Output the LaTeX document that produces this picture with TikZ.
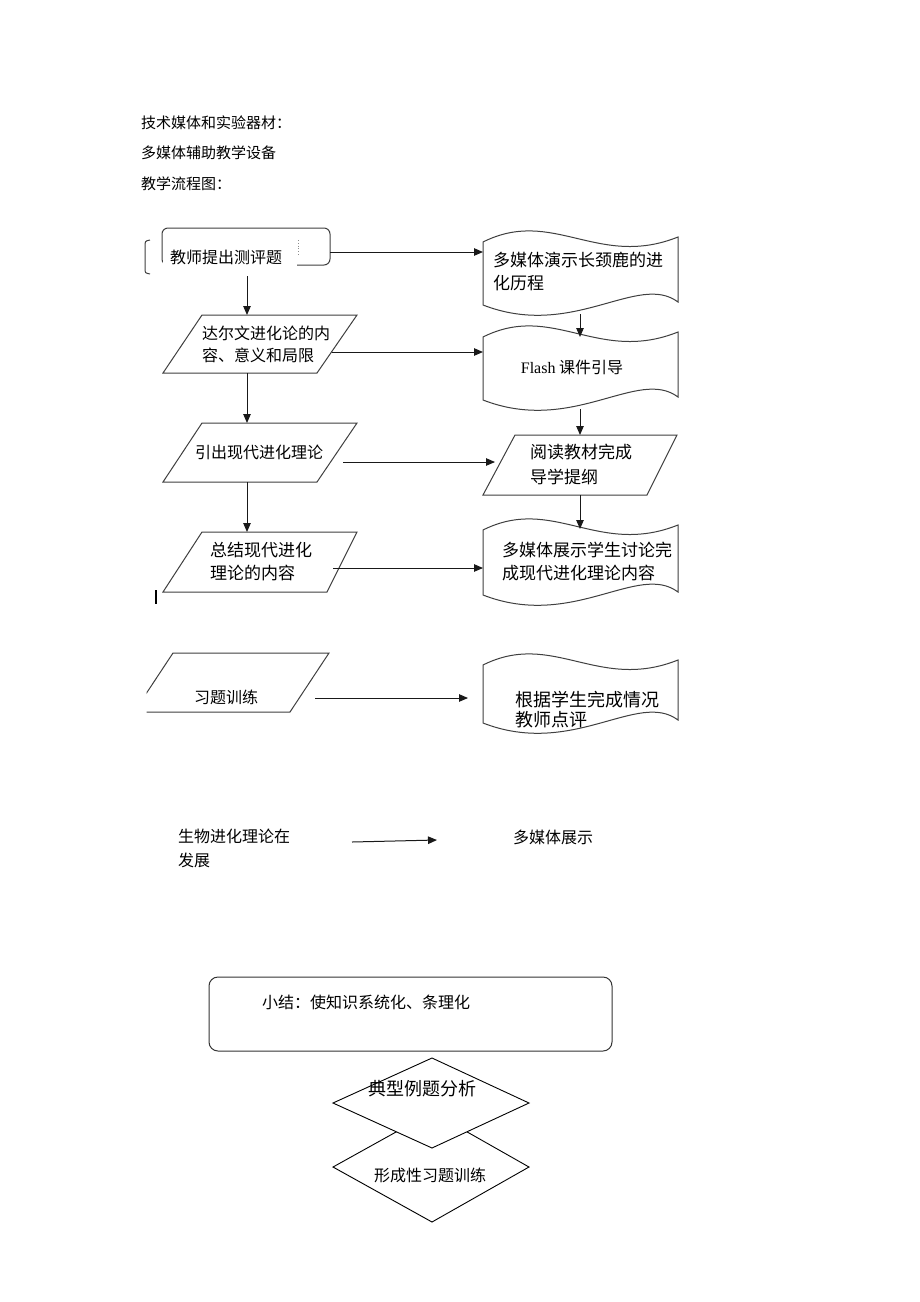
\documentclass[tikz,border=0pt]{standalone}
\usepackage{fontspec}
\setmainfont{Liberation Serif}
\newfontfamily\cjk{Noto Sans CJK SC}
\usetikzlibrary{arrows.meta}
\newcommand\wavedoc[2]{\draw[shp] (483,#1) .. controls +(70,-35) and +(-80,32) .. (678,#1-5) -- (678,#2-3) .. controls +(-40,-30) and +(90,35) .. (483,#2) -- cycle;}
\begin{document}
\begin{tikzpicture}[x=1pt,y=-1pt,
 shp/.style={draw=black!75, line width=1pt},
 dshp/.style={draw=black, line width=0.9pt, fill=white},
 arr/.style={draw=black!90, line width=1pt, -{Triangle[length=9pt,width=7.5pt]}},
 t15/.style={font=\cjk\fontsize{15pt}{20pt}\selectfont, inner sep=0pt, align=left},
 t16/.style={font=\cjk\fontsize{16pt}{22pt}\selectfont, inner sep=0pt, align=left},
 t17/.style={font=\cjk\fontsize{17pt}{23pt}\selectfont, inner sep=0pt, align=left},
 t18/.style={font=\cjk\fontsize{18pt}{20pt}\selectfont, inner sep=0pt, align=left},
]
\fill[white] (0,0) rectangle (920,1302);
\useasboundingbox (0,0) rectangle (920,1302);

% heading lines
\node[t15, anchor=west] (h1) at (141,123) {技术媒体和实验器材：};
\node[t15, anchor=west] (h2) at (141,153) {多媒体辅助教学设备};
\node[t15, anchor=west] (h3) at (141,184) {教学流程图：};

% node 1
\draw[shp, rounded corners=6pt] (162,228) rectangle (330,265);
\fill[white] (163,236) rectangle (297,276);
\draw[shp] (150,240) .. controls (145,241) .. (145,247) -- (145,268) .. controls (145,273) .. (150,274);
\draw[black!45, dotted, line width=0.8pt] (298,240) -- (298,256);
\node[t16, anchor=west] (n1) at (170,257) {教师提出测评题};
\coordinate (n1b) at (247,276);
\coordinate (n1r) at (330,252);

% left column parallelograms
\draw[shp] (202,315) -- (357,315) -- (317,373) -- (163,373) -- cycle;
\node[t16, anchor=west] (p1) at (202,344) {达尔文进化论的内\\容、意义和局限};
\coordinate (p1t) at (247,315);
\coordinate (p1b) at (247,373);
\coordinate (p1r) at (332,352);

\draw[shp] (202,423) -- (357,423) -- (317,482) -- (163,482) -- cycle;
\node[t16] (p2) at (259,452) {引出现代进化理论};
\coordinate (p2t) at (247,423);
\coordinate (p2b) at (247,482);
\coordinate (p2r) at (343,462);

\draw[shp] (202,532) -- (357,532) -- (327,592) -- (163,592) -- cycle;
\node[t17, anchor=west] (p3) at (210,561.5) {总结现代进化\\理论的内容};
\coordinate (p3t) at (247,532);
\coordinate (p3r) at (333,568);

\draw[black, line width=2pt] (156,590) -- (156,604);

\begin{scope}
\clip (146.5,640) rectangle (400,720);
\draw[shp] (173,653) -- (329,653) -- (290,712) -- (134,712) -- cycle;
\end{scope}
\node[t16] (p4) at (226,697) {习题训练};
\coordinate (p4r) at (315,698);

% right column
\wavedoc{242}{305}
\node[t17, anchor=west] (a) at (493,271.5) {多媒体演示长颈鹿的进\\化历程};
\coordinate (al) at (483,252);
\coordinate (ab) at (580,314);

\wavedoc{337}{400}
\node[t16] (b) at (572,367) {{\rmfamily Flash} 课件引导};
\coordinate (bl) at (483,352);
\coordinate (bt) at (580,337);
\coordinate (bb) at (580,409);

\draw[shp] (515,435) -- (677,435) -- (647,495) -- (483,495) -- cycle;
\node[t17, anchor=west, font=\cjk\fontsize{17pt}{25pt}\selectfont] (c) at (530,464.5) {阅读教材完成\\导学提纲};
\coordinate (ct) at (580,435);
\coordinate (cb) at (580,495);
\coordinate (cl) at (495,462);

\wavedoc{530}{595}
\node[t17, anchor=west] (d) at (502,561.5) {多媒体展示学生讨论完\\成现代进化理论内容};
\coordinate (dt) at (580,529);
\coordinate (dl) at (483,568);

\wavedoc{665}{723}
\node[t18, anchor=west] (e) at (515,710) {根据学生完成情况\\教师点评};
\coordinate (el) at (468,698);

% connectors
\draw[arr] (n1b) -- (p1t);
\draw[arr] (p1b) -- (p2t);
\draw[arr] (p2b) -- (p3t);
\draw[arr] (n1r) -- (al);
\draw[arr] (p1r) -- (bl);
\draw[arr] (p2r) -- (cl);
\draw[arr] (p3r) -- (dl);
\draw[arr] (p4r) -- (el);
\draw[arr] (ab) -- (bt);
\draw[arr] (bb) -- (ct);
\draw[arr] (cb) -- (dt);

% middle
\node[t16, anchor=west, font=\cjk\fontsize{16pt}{24pt}\selectfont] (m1) at (178,848) {生物进化理论在\\发展};
\node[t16, anchor=west] (m2) at (513,837) {多媒体展示};
\coordinate (ma) at (352,842);
\coordinate (mb) at (437,840);
\draw[arr] (ma) -- (mb);

% summary box
\draw[draw=black!80, line width=1pt, rounded corners=9pt] (209,977) rectangle (612,1051);
\node[t16, anchor=west] (s) at (262,1002) {小结：使知识系统化、条理化};

% diamonds
\draw[dshp] (432,1112) -- (529,1167) -- (432,1222) -- (333,1167) -- cycle;
\draw[dshp] (432,1058) -- (529,1103) -- (432,1148) -- (333,1103) -- cycle;
\node[t18] (k1) at (422,1089) {典型例题分析};
\node[t16] (k2) at (430,1175) {形成性习题训练};
\end{tikzpicture}
\end{document}
